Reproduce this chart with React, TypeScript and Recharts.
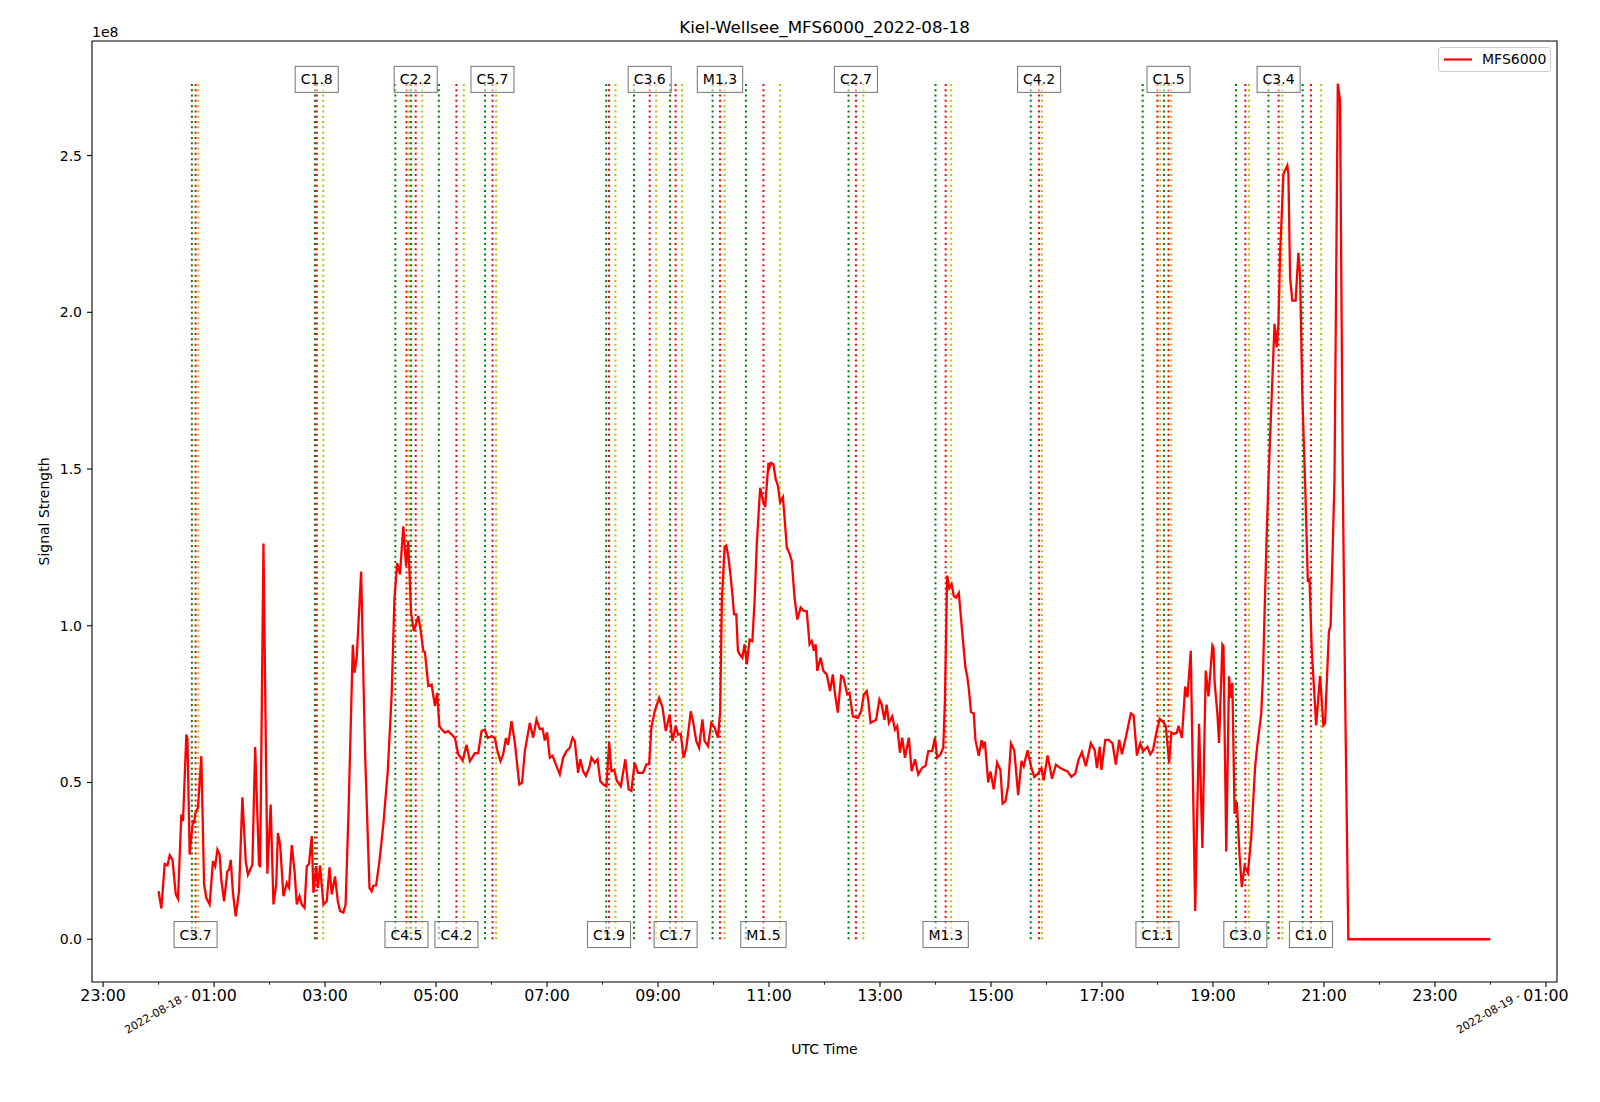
import React from "react";
import {
  LineChart,
  Line,
  XAxis,
  YAxis,
  ReferenceLine,
  ReferenceDot,
  ReferenceArea,
  Legend,
  Label,
} from "recharts";

const FONT = "DejaVu Sans, sans-serif";

// hours since 2022-08-18 00:00 UTC
const hours = [
  0.0, 0.05, 0.11, 0.16, 0.2, 0.25, 0.31, 0.35, 0.41, 0.44, 0.5, 0.52, 0.56, 0.62, 0.64, 0.66, 0.71, 0.77, 0.82, 0.86,
  0.92, 0.98, 1.02, 1.06, 1.1, 1.13, 1.18, 1.24, 1.27, 1.3, 1.34, 1.39, 1.45, 1.51, 1.57, 1.61, 1.69, 1.74, 1.81, 1.83,
  1.89, 1.96, 2.02, 2.07, 2.12, 2.15, 2.19, 2.25, 2.31, 2.35, 2.4, 2.45, 2.49, 2.54, 2.58, 2.63, 2.67, 2.71, 2.76, 2.79,
  2.84, 2.87, 2.91, 2.97, 3.03, 3.08, 3.12, 3.18, 3.23, 3.27, 3.33, 3.37, 3.42, 3.5, 3.53, 3.57, 3.65, 3.72, 3.8, 3.84,
  3.87, 3.92, 3.98, 4.05, 4.13, 4.2, 4.25, 4.3, 4.35, 4.41, 4.46, 4.5, 4.55, 4.6, 4.68, 4.72, 4.77, 4.8, 4.86, 4.92,
  4.98, 5.02, 5.06, 5.1, 5.16, 5.22, 5.28, 5.34, 5.4, 5.48, 5.55, 5.61, 5.7, 5.76, 5.82, 5.88, 5.93, 6.0, 6.06, 6.1,
  6.16, 6.21, 6.26, 6.3, 6.36, 6.42, 6.5, 6.55, 6.6, 6.69, 6.75, 6.81, 6.87, 6.92, 6.96, 7.0, 7.05, 7.1, 7.16, 7.23,
  7.29, 7.35, 7.41, 7.46, 7.5, 7.56, 7.6, 7.65, 7.7, 7.76, 7.8, 7.86, 7.91, 7.96, 8.01, 8.07, 8.12, 8.16, 8.21, 8.26,
  8.33, 8.41, 8.47, 8.52, 8.58, 8.64, 8.73, 8.79, 8.84, 8.88, 8.94, 9.02, 9.08, 9.14, 9.21, 9.26, 9.32, 9.36, 9.41, 9.46,
  9.51, 9.59, 9.63, 9.69, 9.74, 9.8, 9.84, 9.9, 9.96, 10.02, 10.08, 10.12, 10.15, 10.2, 10.23, 10.27, 10.31, 10.34, 10.37, 10.41,
  10.44, 10.47, 10.52, 10.56, 10.6, 10.65, 10.7, 10.74, 10.78, 10.84, 10.89, 10.93, 10.99, 11.01, 11.04, 11.08, 11.12, 11.16, 11.2, 11.25,
  11.28, 11.32, 11.37, 11.41, 11.46, 11.51, 11.57, 11.63, 11.68, 11.73, 11.77, 11.81, 11.84, 11.87, 11.93, 11.98, 12.04, 12.1, 12.15, 12.19,
  12.24, 12.3, 12.34, 12.41, 12.45, 12.51, 12.6, 12.66, 12.71, 12.76, 12.79, 12.83, 12.93, 12.99, 13.03, 13.08, 13.12, 13.16, 13.22, 13.27,
  13.31, 13.36, 13.4, 13.45, 13.52, 13.57, 13.63, 13.69, 13.76, 13.82, 13.87, 13.94, 13.99, 14.03, 14.09, 14.14, 14.17, 14.21, 14.25, 14.29,
  14.33, 14.37, 14.42, 14.48, 14.54, 14.57, 14.6, 14.64, 14.69, 14.72, 14.78, 14.83, 14.86, 14.89, 14.95, 14.99, 15.05, 15.11, 15.17, 15.21,
  15.26, 15.31, 15.36, 15.42, 15.49, 15.55, 15.59, 15.66, 15.72, 15.78, 15.85, 15.91, 15.95, 16.02, 16.1, 16.17, 16.25, 16.32, 16.38, 16.45,
  16.52, 16.58, 16.64, 16.71, 16.8, 16.87, 16.91, 16.96, 16.99, 17.06, 17.12, 17.19, 17.25, 17.31, 17.36, 17.44, 17.52, 17.57, 17.63, 17.69,
  17.74, 17.82, 17.87, 17.92, 17.98, 18.04, 18.11, 18.15, 18.21, 18.25, 18.3, 18.35, 18.38, 18.44, 18.5, 18.54, 18.6, 18.68, 18.75, 18.81,
  18.87, 18.92, 18.99, 19.01, 19.03, 19.08, 19.11, 19.17, 19.19, 19.24, 19.29, 19.32, 19.35, 19.39, 19.43, 19.48, 19.52, 19.57, 19.63, 19.69,
  19.76, 19.8, 19.87, 19.9, 19.93, 19.97, 20.0, 20.06, 20.11, 20.15, 20.18, 20.21, 20.27, 20.34, 20.36, 20.39, 20.43, 20.49, 20.54, 20.57,
  20.61, 20.66, 20.71, 20.74, 20.78, 20.86, 20.93, 20.99, 21.02, 21.09, 21.12, 21.19, 21.25, 21.29, 21.34, 21.38, 21.44, 22.0, 23.0, 24.0,
];

// MFS6000 signal strength, in units of 1e8
const signalE8 = [
  0.153, 0.098, 0.24, 0.236, 0.268, 0.254, 0.143, 0.129, 0.398, 0.377, 0.653, 0.64, 0.27, 0.38, 0.37, 0.4, 0.42, 0.584, 0.175, 0.132,
  0.111, 0.249, 0.233, 0.286, 0.27, 0.19, 0.121, 0.217, 0.222, 0.253, 0.148, 0.073, 0.153, 0.453, 0.249, 0.206, 0.238, 0.613, 0.238, 0.23,
  1.262, 0.209, 0.43, 0.111, 0.175, 0.339, 0.302, 0.137, 0.179, 0.165, 0.3, 0.217, 0.111, 0.137, 0.111, 0.1, 0.233, 0.24, 0.329, 0.148,
  0.233, 0.164, 0.236, 0.111, 0.121, 0.229, 0.143, 0.2, 0.121, 0.09, 0.085, 0.111, 0.39, 0.939, 0.85, 0.898, 1.173, 0.6, 0.164, 0.153,
  0.17, 0.172, 0.249, 0.366, 0.536, 0.78, 1.085, 1.2, 1.164, 1.317, 1.19, 1.27, 1.04, 0.983, 1.031, 0.989, 0.92, 0.915, 0.808, 0.812,
  0.744, 0.786, 0.68, 0.67, 0.659, 0.664, 0.653, 0.642, 0.59, 0.57, 0.62, 0.568, 0.594, 0.594, 0.664, 0.669, 0.642, 0.648, 0.642, 0.605,
  0.568, 0.59, 0.642, 0.62, 0.696, 0.627, 0.494, 0.5, 0.6, 0.69, 0.643, 0.701, 0.67, 0.672, 0.634, 0.66, 0.579, 0.585, 0.557, 0.526,
  0.579, 0.6, 0.611, 0.643, 0.632, 0.531, 0.574, 0.536, 0.521, 0.547, 0.579, 0.563, 0.574, 0.504, 0.494, 0.488, 0.627, 0.536, 0.54, 0.505,
  0.488, 0.574, 0.478, 0.473, 0.563, 0.531, 0.531, 0.558, 0.558, 0.675, 0.727, 0.77, 0.74, 0.664, 0.717, 0.632, 0.68, 0.653, 0.655, 0.579,
  0.611, 0.727, 0.696, 0.632, 0.611, 0.701, 0.632, 0.616, 0.69, 0.675, 0.643, 0.727, 1.079, 1.251, 1.256, 1.217, 1.154, 1.1, 1.036, 1.036,
  0.92, 0.909, 0.898, 0.941, 0.877, 0.956, 0.951, 1.079, 1.26, 1.44, 1.4, 1.378, 1.52, 1.505, 1.52, 1.515, 1.468, 1.447, 1.394, 1.41,
  1.346, 1.25, 1.23, 1.207, 1.09, 1.02, 1.058, 1.047, 1.047, 0.941, 0.951, 0.92, 0.941, 0.856, 0.898, 0.856, 0.845, 0.792, 0.845, 0.781,
  0.723, 0.84, 0.835, 0.781, 0.786, 0.711, 0.706, 0.727, 0.781, 0.792, 0.76, 0.69, 0.7, 0.765, 0.749, 0.7, 0.748, 0.69, 0.711, 0.669,
  0.68, 0.595, 0.643, 0.579, 0.643, 0.536, 0.574, 0.526, 0.547, 0.553, 0.6, 0.6, 0.643, 0.579, 0.59, 0.611, 0.76, 1.16, 1.12, 1.133,
  1.095, 1.09, 1.105, 0.983, 0.866, 0.84, 0.8, 0.725, 0.72, 0.635, 0.585, 0.635, 0.615, 0.63, 0.5, 0.535, 0.478, 0.563, 0.54, 0.433,
  0.44, 0.49, 0.625, 0.603, 0.46, 0.569, 0.552, 0.603, 0.552, 0.518, 0.529, 0.546, 0.507, 0.586, 0.512, 0.557, 0.546, 0.54, 0.535, 0.518,
  0.529, 0.574, 0.597, 0.552, 0.625, 0.603, 0.546, 0.614, 0.54, 0.636, 0.636, 0.625, 0.557, 0.636, 0.59, 0.652, 0.72, 0.714, 0.586, 0.625,
  0.6, 0.614, 0.59, 0.603, 0.659, 0.703, 0.692, 0.68, 0.563, 0.659, 0.655, 0.659, 0.681, 0.642, 0.806, 0.772, 0.92, 0.09, 0.687, 0.291,
  0.857, 0.775, 0.937, 0.93, 0.82, 0.72, 0.626, 0.94, 0.935, 0.28, 0.839, 0.77, 0.818, 0.4, 0.438, 0.267, 0.166, 0.234, 0.212, 0.325,
  0.551, 0.619, 0.72, 0.834, 1.038, 1.3, 1.462, 1.739, 1.963, 1.888, 1.963, 2.186, 2.441, 2.468, 2.44, 2.111, 2.037, 2.037, 2.19, 2.12,
  1.739, 1.462, 1.14, 1.152, 0.925, 0.682, 0.84, 0.682, 0.688, 0.982, 1.0, 1.462, 2.729, 2.676, 1.462, 0.81, 0.0, 0.0, 0.0, 0.0,
];

const hourTicks = [-1, 0, 1, 2, 3, 4, 5, 6, 7, 8, 9, 10, 11, 12, 13, 14, 15, 16, 17, 18, 19, 20, 21, 22, 23, 24, 25];
const dayTickHours = [0, 24];
const dayTickLabels = ["2022-08-18 -", "2022-08-19 -"];
const signalTicks = [0, 0.5, 1, 1.5, 2, 2.5];

// GOES flare events: start / peak / end (UTC) and class
const flareClass = ["C3.7", "C1.8", "C4.5", "C2.2", "C4.2", "C5.7", "C1.9", "C3.6", "C1.7", "M1.3", "M1.5", "C2.7", "M1.3", "C4.2", "C1.1", "C1.5", "C3.0", "C3.4", "C1.0"];
const flareStart = ["00:36", "02:49", "04:16", "04:33", "05:03", "05:53", "08:04", "08:34", "09:13", "09:59", "10:35", "12:26", "14:00", "15:43", "17:44", "18:07", "19:25", "20:00", "20:37"];
const flarePeak = ["00:40", "02:51", "04:28", "04:38", "05:22", "06:01", "08:07", "08:51", "09:19", "10:07", "10:54", "12:34", "14:11", "15:52", "18:00", "18:12", "19:35", "20:11", "20:46"];
const flareEnd = ["00:43", "02:58", "04:31", "04:45", "05:30", "06:05", "08:14", "08:58", "09:26", "10:12", "11:12", "12:42", "14:17", "15:55", "18:03", "18:15", "19:39", "20:15", "20:57"];

const toHour = (t: string) => {
  const [h, m] = t.split(":").map(Number);
  return h + m / 60;
};

const data = hours.map((h, i) => ({ hour: h, signal: signalE8[i] }));

const yMax = Math.max(...signalE8);
const yPad = yMax * 0.05;
const yDomain: [number, number] = [-yPad, yMax + yPad];
const xDomain: [number, number] = [-1.2, 25.2];

const START_COLOR = "#008000";
const PEAK_COLOR = "#ff0000";
const END_COLOR = "#bfbf00";

// rough DejaVu Sans advance widths (em)
const charWidth = (c: string) => (c === "M" ? 0.863 : c === "C" ? 0.698 : c === "." ? 0.318 : 0.636);

function FlareBox(props: any) {
  const { cx, cy, text } = props;
  if (cx == null || cy == null) return null;
  const w = text.split("").reduce((s: number, c: string) => s + charWidth(c) * 14, 0) + 11;
  const h = 26;
  return (
    <g>
      <rect x={cx - w / 2} y={cy - h / 2} width={w} height={h} fill="#fff" fillOpacity={0.5} stroke="#000" strokeOpacity={0.5} strokeWidth={1.1} />
      <text x={cx} y={cy} textAnchor="middle" dominantBaseline="central" fontSize={14} fontFamily={FONT} fill="#000">
        {text}
      </text>
    </g>
  );
}

function HourTick(props: any) {
  const { x, y, payload } = props;
  const h = payload.value as number;
  const isMajor = Math.abs(h % 2) === 1;
  const day = dayTickHours.indexOf(h);
  const clock = String(((h % 24) + 24) % 24).padStart(2, "0") + ":00";
  return (
    <g>
      <line x1={x} x2={x} y1={y} y2={y + (isMajor ? 4.9 : 2.8)} stroke="#000" strokeWidth={isMajor ? 1.1 : 0.8} />
      {isMajor && (
        <text x={x} y={y + 18.5} textAnchor="middle" fontSize={15.8} fontFamily={FONT} fill="#000">
          {clock}
        </text>
      )}
      {day >= 0 && (
        <text
          x={x - 2}
          y={y + 31}
          textAnchor="middle"
          dominantBaseline="central"
          fontSize={11}
          fontFamily={FONT}
          fill="#000"
          transform={`rotate(-30 ${x - 2} ${y + 31})`}
        >
          {dayTickLabels[day]}
        </text>
      )}
    </g>
  );
}

const xAxisTitle = (props: any) => {
  const { x, y, width } = props.viewBox;
  return (
    <text x={x + width / 2} y={y + 72} textAnchor="middle" fontSize={14} fontFamily={FONT} fill="#000">
      UTC Time
    </text>
  );
};

const yAxisTitle = (props: any) => {
  const { x, y, height } = props.viewBox;
  const tx = x + 16.5;
  const ty = y + height / 2;
  return (
    <text x={tx} y={ty} textAnchor="middle" fontSize={14} fontFamily={FONT} fill="#000" transform={`rotate(-90 ${tx} ${ty})`}>
      Signal Strength
    </text>
  );
};

const legendBox = () => (
  <div
    style={{
      width: 113,
      height: 25,
      boxSizing: "border-box",
      border: "1px solid #cccccc",
      borderRadius: 3,
      background: "rgba(255,255,255,0.8)",
      position: "relative",
      fontFamily: FONT,
      fontSize: 14,
      color: "#000",
    }}
  >
    <svg width={40} height={23} style={{ position: "absolute", left: 0, top: 0 }}>
      <line x1={5} x2={33} y1={11.5} y2={11.5} stroke="#ff0000" strokeWidth={2.2} />
    </svg>
    <span style={{ position: "absolute", left: 43, top: 3, lineHeight: "16px" }}>MFS6000</span>
  </div>
);

export default function App() {
  return (
    <div style={{ position: "absolute", left: 0, top: 0, width: 1600, height: 1102, background: "#fff" }}>
      <svg width={1600} height={45} style={{ position: "absolute", left: 0, top: 0, pointerEvents: "none" }}>
        <text x={824.5} y={33} textAnchor="middle" fontSize={16.7} fontFamily={FONT} fill="#000">
          Kiel-Wellsee_MFS6000_2022-08-18
        </text>
        <text x={92} y={36.5} fontSize={14} fontFamily={FONT} fill="#000">
          1e8
        </text>
      </svg>
      <LineChart width={1600} height={1102} data={data} margin={{ top: 41, right: 43, bottom: 60, left: 32 }}>
        <XAxis
          dataKey="hour"
          type="number"
          domain={xDomain}
          allowDataOverflow
          ticks={hourTicks}
          interval={0}
          tick={<HourTick />}
          tickLine={false}
          axisLine={false}
          tickSize={0}
          tickMargin={0}
          height={60}
        >
          <Label content={xAxisTitle} />
        </XAxis>
        <YAxis
          type="number"
          domain={yDomain}
          allowDataOverflow
          ticks={signalTicks}
          interval={0}
          tickFormatter={(v: number) => v.toFixed(1)}
          width={60}
          axisLine={false}
          stroke="#000"
          tickLine={{ stroke: "#000", strokeWidth: 1.1 }}
          tickSize={5}
          tickMargin={5}
          tick={{ fill: "#000", fontSize: 14, fontFamily: FONT }}
        >
          <Label content={yAxisTitle} />
        </YAxis>
        <ReferenceArea
          x1={xDomain[0]}
          x2={xDomain[1]}
          y1={yDomain[0]}
          y2={yDomain[1]}
          fill="none"
          stroke="#000"
          strokeWidth={1.1}
          ifOverflow="visible"
        />
        {flareClass.map((_, i) =>
          [
            [flareStart[i], START_COLOR],
            [flarePeak[i], PEAK_COLOR],
            [flareEnd[i], END_COLOR],
          ].map(([t, color], j) => (
            <ReferenceLine
              key={`v-${i}-${j}`}
              segment={[
                { x: toHour(t), y: 0 },
                { x: toHour(t), y: yMax },
              ]}
              stroke={color}
              strokeWidth={2}
              strokeDasharray="2 3.3"
            />
          ))
        )}
        <Line
          type="linear"
          dataKey="signal"
          name="MFS6000"
          stroke="#ff0000"
          strokeWidth={2.3}
          dot={false}
          activeDot={false}
          isAnimationActive={false}
        />
        {flareClass.map((cls, i) => (
          <ReferenceDot
            key={`lbl-${i}`}
            x={toHour(flarePeak[i])}
            y={i % 2 === 0 ? 0.015 : yMax + 0.014}
            r={0}
            shape={(p: any) => <FlareBox cx={p.cx} cy={p.cy} text={cls} />}
          />
        ))}
        <Legend
          layout="vertical"
          align="center"
          verticalAlign="middle"
          content={legendBox}
          wrapperStyle={{ top: 47, left: 1438, width: 113 }}
        />
      </LineChart>
    </div>
  );
}
